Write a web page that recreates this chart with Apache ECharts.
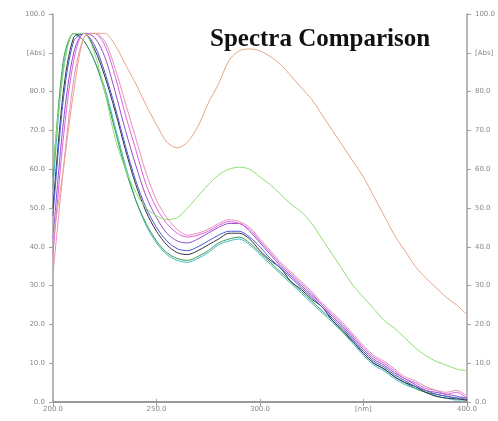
<!DOCTYPE html>
<html><head><meta charset="utf-8">
<script src="https://cdn.jsdelivr.net/npm/echarts@6/dist/echarts.min.js"></script>
<style>html,body{margin:0;padding:0;background:#fff}#c{width:498px;height:421px}</style>
</head><body><div id="c"></div>
<script>
const wavelengths = [200,205,210,215,220,225,230,235,240,245,250,255,260,265,270,275,280,285,290,295,300,305,310,315,320,325,330,335,340,345,350,355,360,365,370,375,380,385,390,395,400];
const xTicks = ['200.0','250.0','300.0','[nm]','400.0'];
const yTicks = ['0.0','10.0','20.0','30.0','40.0','50.0','60.0','70.0','80.0','[Abs]','100.0'];
const orange = [42,60,80,94,95,95,92,87,82,76.5,71.5,67,65.5,67,71,77,82,88,90.5,91,90.5,89,87,84,81,78,74,70,66,62,58,53,48,43,39,35,32,29.5,27,25,22.5];
const green = [60,85,95,95,90,80,68,60,54,50,48,47,47.5,50,53,56,58.5,60,60.5,60,58,56,53.5,51,49,46,42,38,34,30,27,24,21,19,16.5,14,12,10.5,9.5,8.5,8];
const black = [50,80,94,95,91,84,75,65,56,49,44,40.5,38.5,38,39,40.5,42,43.5,43.5,42,39,36.5,34.5,31,29,26.5,24.5,21,18.5,15.5,12.5,10,8.5,6.5,5,4,2.5,1.5,1,0.8,0.5];
const teal = [55,86,95,93,88,81,71,61,52,45.5,41,38,36.5,36,37,38.5,40.5,41.5,42,40.5,38,35.5,33,30.5,28,25.5,23,20.5,18,15,12,9.5,8,6,4.5,3.5,2.5,1.5,1,0.5,0.5];
const darkGreen = [58,88,95,93,88,80,70,60,52,46,41.5,38.5,37,36.5,37.5,39,41,42,42.5,41,38.5,36,33.5,31,28.5,26,23.5,21,18,15.5,12.5,10,8.5,6.5,5,3.5,2.5,2,1.5,1,0.5];
const blue = [48,78,93,95,92,85,76,66,57,50,45,41.5,39.5,39,40,41.5,43,44,44,42.5,40,37,34.5,32,29.5,27,24.5,21.5,19,16,13,10.5,9,7,5.5,4,3,2,1.5,1,1];
const purple = [42,72,90,95,94,89,80,70,61,53,47.5,43.5,41.5,41,42,43.5,45,46,46,44,41,38,35,32.5,30,27.5,25,22,19.5,16.5,13.5,11,9.5,7.5,6,4.5,3,2.5,2,1.5,1];
const magenta = [38,68,88,95,95,92,84,74,65,56,50,46,43.5,42.5,43,44,45.5,46.5,46,44.5,41.5,38.5,35.5,33,30.5,28,25,22.5,20,17,14,11.5,10,8,6,5,3.5,3,2,2.5,1];
const pink = [33,60,83,94,95,93,86,77,68,59,52,47.5,44.5,43,43.5,44.5,46,47,46.5,45,42,39,36,33.5,31,28.5,25.5,23,20.5,17.5,14.5,12,10.5,8.5,6.5,5.5,4,3,2.5,3,1.5];

const seriesDefs = [
  ['teal', teal, '#40b8c8'],
  ['darkGreen', darkGreen, '#3a9a50'],
  ['black', black, '#303040'],
  ['blue', blue, '#4858d8'],
  ['purple', purple, '#9050c8'],
  ['magenta', magenta, '#e060e0'],
  ['pink', pink, '#e890b8'],
  ['green', green, '#8ee070'],
  ['orange', orange, '#e8a488']
];

const axisCol = '#a0a0a0';
const labelStyle = {color:'#888', fontSize:7, fontFamily:'DejaVu Sans'};
const chart = echarts.init(document.getElementById('c'));
chart.setOption({
  animation:false,
  backgroundColor:'#fff',
  title:{text:'Spectra Comparison', left:205, top:22,
    textStyle:{fontFamily:'Liberation Serif', fontWeight:'bold', fontSize:25, color:'#111'}},
  grid:{left:53, right:30, top:14, bottom:19},
  xAxis:[
    {type:'value', min:200, max:400, interval:50, position:'bottom',
     axisLine:{show:true, lineStyle:{color:axisCol, width:1.5}},
     axisTick:{show:true, length:4, lineStyle:{color:axisCol}},
     splitLine:{show:false},
     axisLabel:{...labelStyle, margin:4, formatter:(v)=>xTicks[Math.round((v-200)/50)]}},
    {type:'value', min:200, max:400, interval:50, position:'top',
     axisLine:{show:true, lineStyle:{color:'#909090', width:1.5}},
     axisTick:{show:true, length:3, lineStyle:{color:axisCol}},
     splitLine:{show:false}, axisLabel:{show:false}}
  ],
  yAxis:[
    {type:'value', min:0, max:100, interval:10, position:'left',
     axisLine:{show:true, lineStyle:{color:axisCol, width:1.5}},
     axisTick:{show:true, length:4, lineStyle:{color:axisCol}},
     splitLine:{show:false},
     axisLabel:{...labelStyle, margin:8, formatter:(v)=>yTicks[Math.round(v/10)]}},
    {type:'value', min:0, max:100, interval:10, position:'right',
     axisLine:{show:true, lineStyle:{color:axisCol, width:1.5}},
     axisTick:{show:true, length:4, lineStyle:{color:axisCol}},
     splitLine:{show:false},
     axisLabel:{...labelStyle, margin:8, formatter:(v)=>yTicks[Math.round(v/10)]}}
  ],
  series: seriesDefs.map(([name, vals, col]) => ({
    name, type:'line', xAxisIndex:0, yAxisIndex:0, showSymbol:false, smooth:0.3,
    lineStyle:{color:col, width:1}, itemStyle:{color:col},
    data: wavelengths.map((w,i)=>[w, vals[i]])
  }))
});
</script></body></html>
